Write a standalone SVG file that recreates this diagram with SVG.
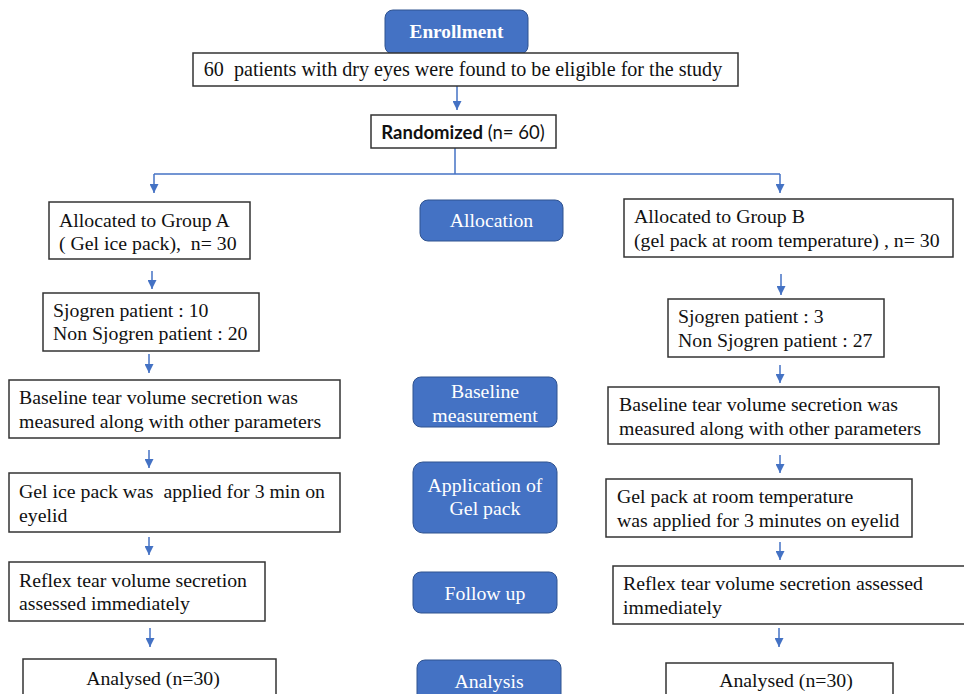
<svg xmlns="http://www.w3.org/2000/svg" width="964" height="694" viewBox="0 0 964 694" font-family="Liberation Serif" font-size="19.8">
<defs>
<marker id="ah" viewBox="0 0 10 10" refX="10" refY="5" markerWidth="9" markerHeight="9" markerUnits="userSpaceOnUse" orient="auto">
<path d="M0,0 L10,5 L0,10 z" fill="#4472C4"/>
</marker>
<style>
.box{fill:#fff;stroke:#333;stroke-width:1.5}
.stage{fill:#4472C4;stroke:#2F528F;stroke-width:1}
.t{fill:#111}
.w{fill:#fff;text-anchor:middle}
.c{fill:none;stroke:#4472C4;stroke-width:1.5}
.a{fill:none;stroke:#4472C4;stroke-width:1.5;marker-end:url(#ah)}
</style>
</defs>
<rect width="964" height="694" fill="#fff"/>

<g id="connectors">
<line class="a" x1="457" y1="86" x2="457" y2="110"/>
<polyline class="c" points="455,148 455,174"/>
<polyline class="c" points="154,174 780,174"/>
<line class="a" x1="154" y1="174" x2="154" y2="193"/>
<line class="a" x1="780" y1="174" x2="780" y2="193"/>
<line class="a" x1="152" y1="271" x2="152" y2="289"/>
<line class="a" x1="781" y1="274" x2="781" y2="295"/>
<line class="a" x1="149" y1="354" x2="149" y2="373"/>
<line class="a" x1="780" y1="365" x2="780" y2="383"/>
<line class="a" x1="149" y1="450" x2="149" y2="468"/>
<line class="a" x1="780" y1="455" x2="780" y2="473"/>
<line class="a" x1="149" y1="537" x2="149" y2="555"/>
<line class="a" x1="780" y1="542" x2="780" y2="560"/>
<line class="a" x1="150" y1="628" x2="150" y2="647"/>
<line class="a" x1="779" y1="628" x2="779" y2="647"/>
</g>

<g id="enrollment">
<rect class="stage" x="385" y="10" width="143" height="44" rx="8"/>
<text class="w" x="456.5" y="38" font-weight="bold" font-size="19.3">Enrollment</text>
</g>
<g id="eligible">
<rect class="box" x="193" y="53" width="545" height="33"/>
<text class="t" x="463" y="76" text-anchor="middle" font-size="20.1" xml:space="preserve">60  patients with dry eyes were found to be eligible for the study</text>
</g>
<g id="randomized">
<rect class="box" x="371" y="115" width="185" height="33"/>
<text class="t" x="463" y="138.5" text-anchor="middle" font-family="Lato" font-size="18.5"><tspan font-weight="bold">Randomized</tspan> (n= 60)</text>
</g>

<g id="groupA">
<rect class="box" x="49" y="202" width="201" height="57"/>
<text class="t" x="59" y="227">Allocated to Group A</text>
<text class="t" x="59" y="250" xml:space="preserve">( Gel ice pack),  n= 30</text>
</g>
<g id="allocation">
<rect class="stage" x="420" y="200" width="143" height="41" rx="8"/>
<text class="w" x="491.5" y="227">Allocation</text>
</g>
<g id="groupB">
<rect class="box" x="624" y="199" width="329" height="58"/>
<text class="t" x="634" y="223">Allocated to Group B</text>
<text class="t" x="634" y="247">(gel pack at room temperature) , n= 30</text>
</g>

<g id="sjogrenA">
<rect class="box" x="43" y="293" width="216" height="58"/>
<text class="t" x="53" y="317">Sjogren patient : 10</text>
<text class="t" x="53" y="340">Non Sjogren patient : 20</text>
</g>
<g id="sjogrenB">
<rect class="box" x="668" y="299" width="216" height="58"/>
<text class="t" x="678" y="323">Sjogren patient : 3</text>
<text class="t" x="678" y="347">Non Sjogren patient : 27</text>
</g>

<g id="baselineA">
<rect class="box" x="9" y="380" width="331" height="58"/>
<text class="t" x="19" y="404">Baseline tear volume secretion was</text>
<text class="t" x="19" y="428">measured along with other parameters</text>
</g>
<g id="baselineStage">
<rect class="stage" x="413" y="377" width="144" height="50" rx="8"/>
<text class="w" x="485" y="398">Baseline</text>
<text class="w" x="485" y="422">measurement</text>
</g>
<g id="baselineB">
<rect class="box" x="608" y="387" width="331" height="57"/>
<text class="t" x="619" y="411">Baseline tear volume secretion was</text>
<text class="t" x="619" y="435">measured along with other parameters</text>
</g>

<g id="applyA">
<rect class="box" x="9" y="473" width="331" height="59"/>
<text class="t" x="19" y="498" xml:space="preserve">Gel ice pack was  applied for 3 min on</text>
<text class="t" x="19" y="522">eyelid</text>
</g>
<g id="applyStage">
<rect class="stage" x="413" y="462" width="144" height="71" rx="10"/>
<text class="w" x="485" y="492">Application of</text>
<text class="w" x="485" y="515">Gel pack</text>
</g>
<g id="applyB">
<rect class="box" x="606" y="479" width="306" height="58"/>
<text class="t" x="617" y="503">Gel pack at room temperature</text>
<text class="t" x="617" y="527">was applied for 3 minutes on eyelid</text>
</g>

<g id="reflexA">
<rect class="box" x="9" y="562" width="256" height="59"/>
<text class="t" x="19" y="587">Reflex tear volume secretion</text>
<text class="t" x="19" y="610">assessed immediately</text>
</g>
<g id="followStage">
<rect class="stage" x="413" y="572" width="144" height="41" rx="8"/>
<text class="w" x="485" y="600">Follow up</text>
</g>
<g id="reflexB">
<rect class="box" x="613" y="566" width="360" height="58"/>
<text class="t" x="623" y="590">Reflex tear volume secretion assessed</text>
<text class="t" x="623" y="614">immediately</text>
</g>

<g id="analysedA">
<rect class="box" x="23" y="659" width="253" height="50"/>
<text class="t" x="153" y="685" text-anchor="middle">Analysed (n=30)</text>
</g>
<g id="analysisStage">
<rect class="stage" x="417" y="660" width="144" height="50" rx="8"/>
<text class="w" x="489" y="688">Analysis</text>
</g>
<g id="analysedB">
<rect class="box" x="666" y="663" width="227" height="50"/>
<text class="t" x="786" y="687" text-anchor="middle">Analysed (n=30)</text>
</g>
</svg>
